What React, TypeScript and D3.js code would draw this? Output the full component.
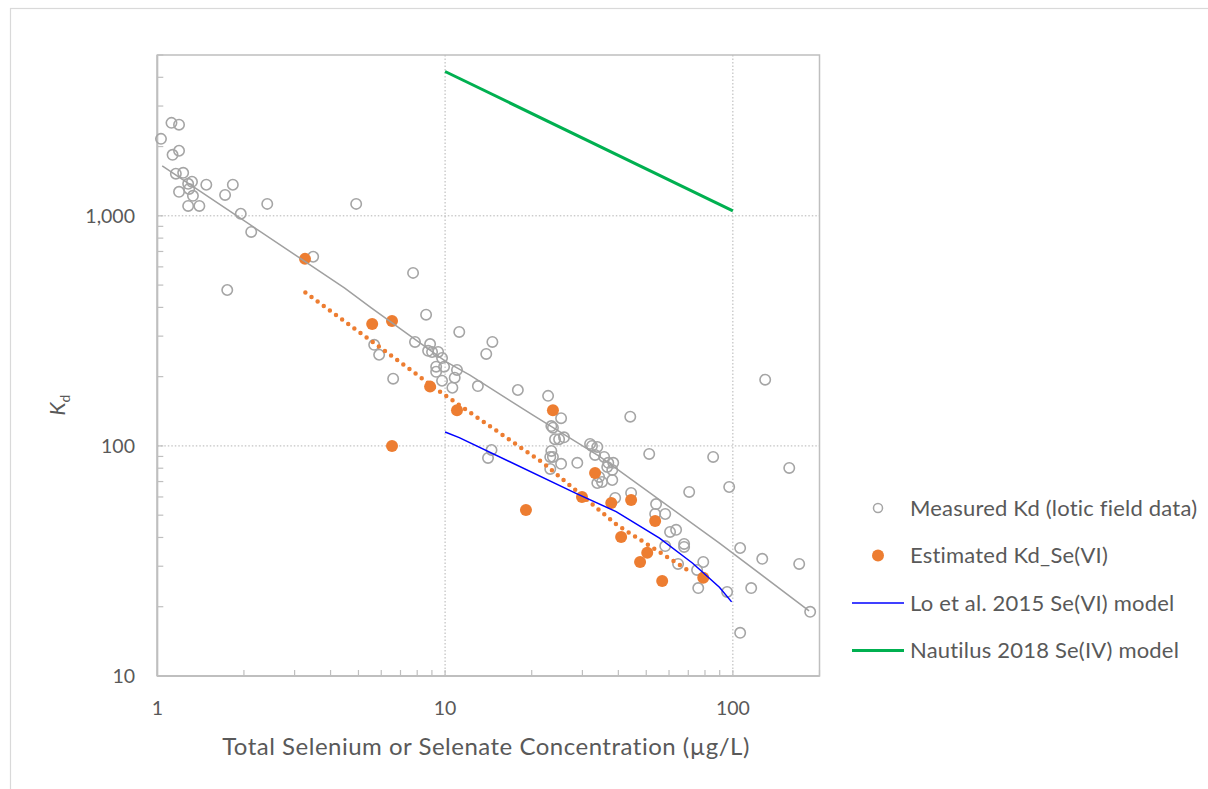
import React from "react";
import * as d3 from "d3";

// Measured Kd (lotic field data): concentration (µg/L) and Kd
const measuredConc = [
  1.03, 1.12, 1.19, 1.13, 1.19, 1.16, 1.23, 1.28, 1.32, 1.29, 1.19, 1.33, 1.28, 1.4, 1.48, 1.72, 1.83,
  1.95, 2.12, 2.41, 4.91, 3.48, 7.74, 1.75, 8.59, 11.2, 7.86, 8.87, 5.67, 5.9, 8.73, 9.01, 9.46, 9.76,
  9.31, 9.92, 9.31, 11.0, 10.8, 9.76, 10.6, 6.6, 14.6, 13.9, 13.0, 17.9, 22.8, 25.3, 23.4, 23.7, 24.1,
  24.9, 25.9, 44.0, 14.5, 14.1, 23.4, 23.2, 23.7, 25.3, 28.8, 23.2, 31.9, 32.4, 33.8, 33.2, 35.7, 36.9,
  38.4, 38.1, 36.6, 34.3, 33.8, 35.1, 38.1, 39.0, 44.3, 51.2, 70.5, 85.4, 54.1, 53.7, 58.2, 60.5, 63.5,
  67.7, 67.7, 58.2, 64.5, 78.9, 75.1, 75.8, 129.5, 157, 97.1, 95.5, 106, 126.5, 170, 115.8, 185.6, 106,
];
const measuredKd = [
  2160, 2535, 2489, 1841, 1918, 1524, 1538, 1377, 1406, 1309, 1271, 1222, 1104, 1104, 1365, 1233, 1365,
  1021, 851, 1127, 1127, 664, 565, 476, 372, 313, 283, 277, 275, 249, 259, 256, 256, 241, 221, 221, 210,
  214, 198, 192, 179, 196, 283, 251, 182, 175, 165, 132, 122, 120, 107, 107, 109, 134, 96, 88.7, 95.1,
  89.6, 89.6, 83.6, 84.4, 79.4, 102, 100, 99, 91.4, 89.6, 84.4, 84.4, 78.6, 81.0, 73.3, 69.0, 69.7, 71.1,
  59.4, 62.5, 92.3, 63.1, 89.6, 55.9, 50.6, 50.6, 42.3, 43.2, 37.5, 36.4, 36.7, 30.7, 31.3, 28.9, 24.1,
  194, 80.2, 66.3, 23.2, 36.0, 32.3, 30.7, 24.1, 19.0, 15.4,
];

// Estimated Kd_Se(VI)
const estConc = [3.26, 5.58, 6.54, 8.87, 11.0, 6.54, 19.1, 23.7, 29.9, 33.2, 37.8, 44.3, 53.7, 40.9, 50.4, 47.6, 56.8, 78.9];
const estKd = [650, 339, 349, 181, 143, 100, 52.7, 143, 60.0, 76.3, 56.5, 58.2, 47.2, 40.2, 34.3, 31.3, 25.9, 26.7];

// trend lines
const measTrendConc = [1.04, 1.83, 4.48, 5.54, 10.1, 12.2, 20.2, 34.4, 89.8, 184];
const measTrendKd = [1650, 1027, 485, 398, 232, 203, 136, 90, 37.8, 19.2];
const estTrendConc = [3.27, 9.8, 22, 39.5, 72.4];
const estTrendKd = [464, 169, 84, 45.4, 28];

// models
const loConc = [10, 11.2, 28.5, 39.3, 55.6, 72.5, 89.8, 99];
const loKd = [115, 108.6, 62.2, 51.8, 39.7, 30.9, 24.3, 21];
const nautConc = [10, 100];
const nautKd = [4240, 1050];

const xTickValues = [1, 10, 100];
const yTickValues = [10, 100, 1000];

const legendItems = [
  "Measured Kd (lotic field data)",
  "Estimated Kd_Se(VI)",
  "Lo et al. 2015 Se(VI) model",
  "Nautilus 2018 Se(IV) model",
];

const W = 1208;
const H = 789;
const FONT = "Lato, 'Open Sans', sans-serif";
const TXT = "#595959";
const ORANGE = "#ED7D31";
const GRAY = "#A5A5A5";

export default function App() {
  const x = d3.scaleLog().domain([1, 200]).range([157.3, 819.5]);
  const y = d3.scaleLog().domain([10, 5000]).range([676, 55]);
  const [x0, x1] = x.range();
  const [y0, y1] = y.range();

  const line = d3
    .line<[number, number]>()
    .x((d) => x(d[0]))
    .y((d) => y(d[1]));
  const pairs = (a: number[], b: number[]) => a.map((v, i) => [v, b[i]] as [number, number]);

  const xMinor: number[] = [];
  [1, 10, 100].forEach((d) => {
    for (let k = 1; k <= 9; k++) if (d * k <= 200) xMinor.push(d * k);
  });
  const yMinor: number[] = [];
  [10, 100, 1000].forEach((d) => {
    for (let k = 1; k <= 9; k++) if (d * k <= 5000) yMinor.push(d * k);
  });

  const fmt = d3.format(",");

  return (
    <svg
      width={W}
      height={H}
      style={{ position: "absolute", left: 0, top: 0, background: "#fff" }}
      fontFamily={FONT}
    >
      <rect x={10.5} y={8.5} width={1220} height={800} fill="#fff" stroke="#D9D9D9" strokeWidth={1.2} />

      {/* gridlines */}
      <g stroke="#B4B4B4" strokeWidth={1} strokeDasharray="1.5 2">
        {[10, 100].map((v) => (
          <line key={"gx" + v} x1={x(v)} x2={x(v)} y1={y1} y2={y0} />
        ))}
        {[100, 1000].map((v) => (
          <line key={"gy" + v} x1={x0} x2={x1} y1={y(v)} y2={y(v)} />
        ))}
      </g>

      {/* plot frame */}
      <rect x={x0} y={y1} width={x1 - x0} height={y0 - y1} fill="none" stroke="#BFBFBF" strokeWidth={1.5} />
      <line x1={x0} x2={x0} y1={y1} y2={y0} stroke="#BFBFBF" strokeWidth={2} />
      <line x1={x0} x2={x1} y1={y0} y2={y0} stroke="#BFBFBF" strokeWidth={2} />

      {/* ticks (inside) */}
      <g stroke="#BFBFBF" strokeWidth={1.2}>
        {xMinor.map((v) => (
          <line key={"tx" + v} x1={x(v)} x2={x(v)} y1={y0} y2={y0 - 6} />
        ))}
        {yMinor.map((v) => (
          <line key={"ty" + v} x1={x0} x2={x0 + 6} y1={y(v)} y2={y(v)} />
        ))}
      </g>

      {/* tick labels */}
      <g fill={TXT} fontSize={19.5}>
        {xTickValues.map((v) => (
          <text key={"lx" + v} x={x(v)} y={715} textAnchor="middle">
            {fmt(v)}
          </text>
        ))}
        {yTickValues.map((v) => (
          <text key={"ly" + v} x={135} y={y(v)} dy="0.35em" textAnchor="end">
            {fmt(v)}
          </text>
        ))}
      </g>

      {/* axis titles */}
      <text x={486} y={755} textAnchor="middle" fill={TXT} fontSize={24} letterSpacing={0.5}>
        Total Selenium or Selenate Concentration (µg/L)
      </text>
      <text transform="translate(65,405) rotate(-90)" textAnchor="middle" fill={TXT} fontSize={21}>
        <tspan fontStyle="italic">K</tspan>
        <tspan fontSize={14} dy={5}>
          d
        </tspan>
      </text>

      {/* measured points */}
      <g fill="none" stroke={GRAY} strokeWidth={1.6}>
        {measuredConc.map((c, i) => (
          <circle key={"m" + i} cx={x(c)} cy={y(measuredKd[i])} r={5.2} />
        ))}
      </g>

      {/* estimated points */}
      <g fill={ORANGE}>
        {estConc.map((c, i) => (
          <circle key={"e" + i} cx={x(c)} cy={y(estKd[i])} r={6} />
        ))}
      </g>

      {/* trend lines */}
      <path d={line(pairs(measTrendConc, measTrendKd)) || ""} fill="none" stroke="#A0A0A0" strokeWidth={1.5} />
      <path
        d={line(pairs(estTrendConc, estTrendKd)) || ""}
        fill="none"
        stroke={ORANGE}
        strokeWidth={4.5}
        strokeLinecap="round"
        strokeDasharray="0 7.6"
      />

      {/* models */}
      <path d={line(pairs(loConc, loKd)) || ""} fill="none" stroke="#0000FF" strokeWidth={1.5} />
      <path d={line(pairs(nautConc, nautKd)) || ""} fill="none" stroke="#00B050" strokeWidth={3} />

      {/* legend */}
      <g fontSize={22} fill={TXT} letterSpacing={0.2}>
        {legendItems.map((t, i) => {
          const ly = 508 + i * 47.5;
          return (
            <g key={t}>
              {i === 0 && <circle cx={878} cy={ly} r={4.5} fill="#fff" stroke={GRAY} strokeWidth={1.5} />}
              {i === 1 && <circle cx={878} cy={ly} r={6} fill={ORANGE} />}
              {i === 2 && <line x1={852} x2={904} y1={ly} y2={ly} stroke="#0000FF" strokeWidth={1.5} />}
              {i === 3 && <line x1={852} x2={904} y1={ly} y2={ly} stroke="#00B050" strokeWidth={3} />}
              <text x={910} y={ly} dy="0.35em">
                {t}
              </text>
            </g>
          );
        })}
      </g>
    </svg>
  );
}
